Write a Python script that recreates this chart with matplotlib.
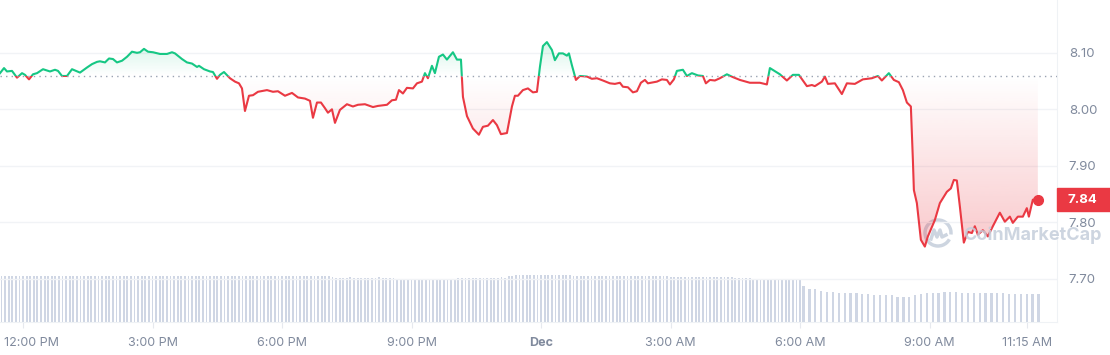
import numpy as np
import matplotlib
matplotlib.use("Agg")
import matplotlib.pyplot as plt
import matplotlib.colors as mcolors
import matplotlib.transforms as mtransforms
from matplotlib.patches import Rectangle, Arc
from matplotlib.path import Path
from matplotlib.lines import Line2D

plt.rcParams['font.family'] = ['Inter', 'DejaVu Sans']

# price line: hours since midnight Nov 30 (24 = Dec 1, 00:00)
times = [
    11.467, 11.560, 11.629, 11.745, 11.861, 11.977, 12.046, 12.139, 12.232, 12.324,
    12.463, 12.625, 12.741, 12.811, 12.903, 13.019, 13.135, 13.320, 13.482, 13.598,
    13.714, 13.783, 13.899, 13.992, 14.084, 14.177, 14.293, 14.409, 14.524, 14.640,
    14.710, 14.802, 14.895, 15.011, 15.173, 15.335, 15.451, 15.520, 15.682, 15.798,
    15.914, 16.030, 16.076, 16.192, 16.331, 16.400, 16.493, 16.562, 16.655, 16.794,
    16.910, 17.002, 17.072, 17.141, 17.234, 17.327, 17.442, 17.651, 17.790, 17.905,
    18.068, 18.230, 18.369, 18.531, 18.647, 18.716, 18.809, 18.901, 18.994, 19.063,
    19.156, 19.226, 19.341, 19.503, 19.642, 19.758, 19.920, 20.036, 20.106, 20.221,
    20.430, 20.546, 20.638, 20.708, 20.800, 20.893, 21.032, 21.125, 21.240, 21.310,
    21.379, 21.472, 21.541, 21.634, 21.727, 21.819, 21.958, 22.051, 22.144, 22.190,
    22.283, 22.421, 22.560, 22.653, 22.769, 22.885, 22.977, 23.070, 23.209, 23.325,
    23.394, 23.464, 23.579, 23.695, 23.811, 23.904, 23.973, 24.043, 24.135, 24.251,
    24.320, 24.413, 24.506, 24.598, 24.645, 24.714, 24.807, 24.900, 25.062, 25.177,
    25.293, 25.432, 25.594, 25.710, 25.826, 25.895, 26.011, 26.127, 26.220, 26.312,
    26.405, 26.474, 26.683, 26.798, 26.914, 26.984, 27.076, 27.146, 27.285, 27.377,
    27.493, 27.632, 27.748, 27.817, 27.910, 28.026, 28.142, 28.304, 28.443, 28.605,
    28.836, 29.068, 29.230, 29.300, 29.531, 29.693, 29.832, 29.971, 30.157, 30.272,
    30.342, 30.504, 30.573, 30.643, 30.805, 30.967, 31.083, 31.268, 31.453, 31.662,
    31.801, 31.893, 32.055, 32.171, 32.287, 32.380, 32.473, 32.565, 32.612, 32.635,
    32.704, 32.797, 32.889, 32.959, 33.121, 33.237, 33.399, 33.492, 33.561, 33.630,
    33.700, 33.792, 33.885, 33.978, 34.047, 34.117, 34.232, 34.348, 34.464, 34.626,
    34.742, 34.858, 34.927, 35.043, 35.159, 35.251, 35.298, 35.390, 35.506,
]
prices = [
    8.064, 8.073, 8.067, 8.068, 8.056, 8.064, 8.061, 8.053, 8.062, 8.064,
    8.071, 8.067, 8.070, 8.068, 8.059, 8.059, 8.071, 8.065, 8.074, 8.080,
    8.084, 8.085, 8.083, 8.090, 8.089, 8.083, 8.086, 8.093, 8.102, 8.100,
    8.101, 8.107, 8.102, 8.101, 8.098, 8.098, 8.101, 8.099, 8.089, 8.083,
    8.081, 8.075, 8.077, 8.071, 8.067, 8.066, 8.054, 8.061, 8.066, 8.055,
    8.049, 8.046, 8.037, 7.997, 8.024, 8.025, 8.031, 8.034, 8.031, 8.032,
    8.024, 8.029, 8.021, 8.019, 8.015, 7.985, 8.012, 8.012, 8.002, 7.994,
    8.000, 7.976, 7.999, 8.009, 8.005, 8.008, 8.009, 8.006, 8.004, 8.006,
    8.008, 8.016, 8.017, 8.034, 8.028, 8.038, 8.037, 8.046, 8.049, 8.064,
    8.055, 8.077, 8.064, 8.093, 8.097, 8.088, 8.101, 8.088, 8.088, 8.022,
    7.988, 7.966, 7.955, 7.969, 7.971, 7.981, 7.972, 7.956, 7.958, 8.005,
    8.024, 8.024, 8.034, 8.037, 8.030, 8.031, 8.075, 8.112, 8.119, 8.105,
    8.087, 8.099, 8.099, 8.095, 8.099, 8.078, 8.052, 8.059, 8.058, 8.054,
    8.055, 8.051, 8.046, 8.045, 8.047, 8.040, 8.039, 8.030, 8.032, 8.047,
    8.052, 8.046, 8.049, 8.053, 8.052, 8.044, 8.053, 8.068, 8.070, 8.059,
    8.064, 8.060, 8.059, 8.046, 8.052, 8.051, 8.055, 8.062, 8.057, 8.052,
    8.047, 8.047, 8.044, 8.073, 8.062, 8.051, 8.061, 8.061, 8.041, 8.043,
    8.041, 8.049, 8.058, 8.045, 8.046, 8.027, 8.046, 8.045, 8.053, 8.055,
    8.059, 8.051, 8.064, 8.052, 8.048, 8.034, 8.012, 8.005, 7.910, 7.857,
    7.834, 7.769, 7.757, 7.775, 7.804, 7.834, 7.854, 7.860, 7.875, 7.874,
    7.828, 7.764, 7.783, 7.781, 7.793, 7.778, 7.786, 7.775, 7.793, 7.817,
    7.801, 7.810, 7.799, 7.810, 7.810, 7.825, 7.810, 7.840, 7.840,
]
open_price = 8.059
last_price = 7.84

# volume bars (5 min until 6 AM, coarser after)
vol_times_a = np.arange(11.5, 30.01, 1 / 12)
vol_a = [
    1.00, 0.99, 1.00, 1.00, 1.01, 1.00, 0.99, 1.00, 1.00, 1.01, 1.00, 1.00,
    1.00, 1.00, 0.99, 1.00, 1.00, 1.01, 1.00, 1.00, 0.99, 1.00, 1.01, 1.00,
    1.00, 1.01, 1.00, 1.00, 0.99, 1.00, 1.00, 1.00, 1.01, 1.00, 0.99, 1.00,
    1.00, 1.00, 1.01, 1.00, 1.00, 0.99, 1.00, 1.00, 1.00, 1.01, 1.00, 1.00,
    0.99, 1.00, 1.00, 1.00, 1.01, 1.00, 1.00, 0.99, 1.00, 1.00, 1.00, 1.01,
    1.00, 1.00, 0.99, 1.00, 1.00, 1.00, 1.01, 1.00, 1.00, 0.99, 1.00, 1.00,
    1.00, 1.01, 1.00, 1.00, 0.99, 1.00, 1.00, 1.00, 1.00, 0.99, 1.00, 1.00,
    1.00, 1.00, 0.99, 1.00, 1.00, 1.00, 1.00, 0.99, 0.97, 0.96, 0.96, 0.96,
    0.96, 0.97, 0.96, 0.96, 0.96, 0.95, 0.96, 0.96, 0.96, 0.97, 0.96, 0.96,
    0.96, 0.95, 0.94, 0.94, 0.94, 0.93, 0.94, 0.94, 0.94, 0.94, 0.93, 0.94,
    0.94, 0.94, 0.94, 0.93, 0.94, 0.94, 0.94, 0.95, 0.96, 0.96, 0.96, 0.96,
    0.96, 0.96, 0.95, 0.96, 0.96, 0.96, 0.96, 0.97, 0.96, 0.99, 1.01, 1.02,
    1.02, 1.02, 1.03, 1.02, 1.02, 1.02, 1.02, 1.03, 1.02, 1.02, 1.02, 1.02,
    1.02, 1.02, 1.02, 1.01, 1.00, 1.00, 1.00, 1.00, 1.01, 1.00, 1.00, 1.00,
    1.00, 1.00, 1.00, 1.01, 1.00, 1.00, 1.00, 1.00, 1.00, 1.00, 1.00, 1.01,
    1.00, 1.00, 1.00, 1.00, 1.00, 1.00, 0.98, 0.98, 0.98, 0.98, 0.98, 0.98,
    0.98, 0.98, 0.98, 0.98, 0.98, 0.98, 0.98, 0.98, 0.98, 0.98, 0.98, 0.97,
    0.95, 0.95, 0.95, 0.95, 0.95, 0.93, 0.92, 0.92, 0.91, 0.91, 0.91, 0.91,
    0.91, 0.91, 0.91, 0.91, 0.91, 0.91, 0.91,
]
vol_times_b = 30.08 + 0.136 * np.arange(41)
vol_b = [
    0.78, 0.71, 0.71, 0.67, 0.65, 0.65, 0.62, 0.62, 0.62, 0.62,
    0.60, 0.60, 0.58, 0.58, 0.58, 0.58, 0.55, 0.55, 0.55, 0.59,
    0.61, 0.62, 0.62, 0.62, 0.65, 0.65, 0.65, 0.62, 0.62, 0.62,
    0.62, 0.62, 0.62, 0.62, 0.62, 0.60, 0.60, 0.60, 0.60, 0.60, 0.60,
]

tick_hours = [12, 15, 18, 21, 24, 27, 30, 33, 35.25]
tick_labels = ['12:00 PM', '3:00 PM', '6:00 PM', '9:00 PM', 'Dec',
               '3:00 AM', '6:00 AM', '9:00 AM', '11:15 AM']
y_ticks = [7.70, 7.80, 7.90, 8.00, 8.10]

GREEN = '#16c784'
RED = '#ea3943'
GREY = '#808a9d'
LIGHT = '#eff2f5'

t = np.array(times)
p = np.array(prices)
x0, x1 = 11.467, 35.95
ylo, yhi = 7.6235, 8.1935

fig = plt.figure(figsize=(11.1, 3.55), dpi=100)
ax = fig.add_axes([0, 33 / 355, 1057 / 1110, 322 / 355])
ax2 = ax.twinx()
ax.set_zorder(ax2.get_zorder() + 1)
ax.patch.set_visible(False)

# volume
ax2.bar(vol_times_a, vol_a, width=0.042, color='#cfd6e4', linewidth=0)
ax2.bar(vol_times_b, vol_b, width=0.052, color='#cfd6e4', linewidth=0)
ax2.set_ylim(0, 7)
ax2.axis('off')

# grid
for yv in y_ticks:
    ax.axhline(yv, color='#f1f3f6', lw=1, zorder=0)


def gradient(coll, color, y_far, a_max):
    clip = Path.make_compound_path(*coll.get_paths())
    n = 256
    rgba = np.zeros((n, 1, 4))
    rgba[..., :3] = mcolors.to_rgb(color)
    rgba[:, 0, 3] = np.linspace(0, a_max, n)
    lo, hi = sorted([open_price, y_far])
    if y_far < open_price:
        rgba = rgba[::-1]
    im = ax.imshow(rgba, extent=[t[0], t[-1], lo, hi], origin='lower',
                   aspect='auto', zorder=1, interpolation='bilinear')
    im.set_clip_path(clip, transform=ax.transData)


up = ax.fill_between(t, p, open_price, where=p >= open_price, interpolate=True,
                     facecolor='none', edgecolor='none')
dn = ax.fill_between(t, p, open_price, where=p <= open_price, interpolate=True,
                     facecolor='none', edgecolor='none')
gradient(up, GREEN, 8.125, 0.2)
gradient(dn, RED, 7.75, 0.28)

# price line, green above the open, red below
ln_g, = ax.plot(t, p, color=GREEN, lw=1.5, zorder=3, solid_joinstyle='round')
ln_g.set_clip_path(Rectangle((x0, open_price), x1 - x0, yhi - open_price,
                             transform=ax.transData))
ln_r, = ax.plot(t, p, color=RED, lw=1.5, zorder=3, solid_joinstyle='round')
ln_r.set_clip_path(Rectangle((x0, ylo), x1 - x0, open_price - ylo,
                             transform=ax.transData))
ax.axhline(open_price, color='#9aa3b2', lw=1, ls=(0, (1, 3)), zorder=4)
ax.plot(t[-1], p[-1], 'o', color=RED, ms=7, zorder=5)

ax.set_xlim(x0, x1)
ax.set_ylim(ylo, yhi)

# axes styling
for s in ['top', 'left']:
    ax.spines[s].set_visible(False)
ax.spines['right'].set_color(LIGHT)
ax.spines['bottom'].set_color(LIGHT)
ax.set_xticks(tick_hours, tick_labels)
ax.tick_params(axis='x', length=4, color='#e6e9ee', labelcolor=GREY, labelsize=9, pad=7)
lbls = ax.get_xticklabels()
lbls[4].set_fontweight('bold')
lbls[0].set_transform(lbls[0].get_transform() +
                      mtransforms.ScaledTranslation(0.08, 0, fig.dpi_scale_trans))
ax.yaxis.tick_right()
ax.set_yticks(y_ticks, [f'{v:.2f}' for v in y_ticks])
ax.tick_params(axis='y', length=0, pad=8.5, labelcolor=GREY, labelsize=9.5)

# last price tag
bt = mtransforms.blended_transform_factory(fig.transFigure, ax.transData)
ax.add_patch(Rectangle((1057 / 1110, last_price - 0.0205), 53 / 1110, 0.041,
                       transform=bt, color=RED, clip_on=False, zorder=6))
ax.text(1068 / 1110, last_price, f'{last_price:.2f}', transform=bt, color='white',
        fontsize=9.5, fontweight='bold', va='center', ha='left', zorder=7)

# watermark
wm = '#c5cedb'
fig.text(963 / 1110, 1 - 235 / 355, 'CoinMarketCap', color=wm, alpha=0.85,
         fontsize=13, fontweight='bold', va='center', ha='left', zorder=10)
fig.add_artist(Arc((938 / 1110, 1 - 233 / 355), 26 / 1110, 26 / 355, theta1=-20,
                   theta2=300, transform=fig.transFigure, color=wm, lw=2.5, alpha=0.85))
mx = np.array([-7, -4, -1, 2, 4, 8]) + 938
my = np.array([6, -3, 4, -3, 4, 2]) + 233
fig.add_artist(Line2D(mx / 1110, 1 - my / 355, transform=fig.transFigure,
                      color=wm, lw=2.5, alpha=0.85, solid_joinstyle='round'))

fig.savefig('out.png', dpi=100)
